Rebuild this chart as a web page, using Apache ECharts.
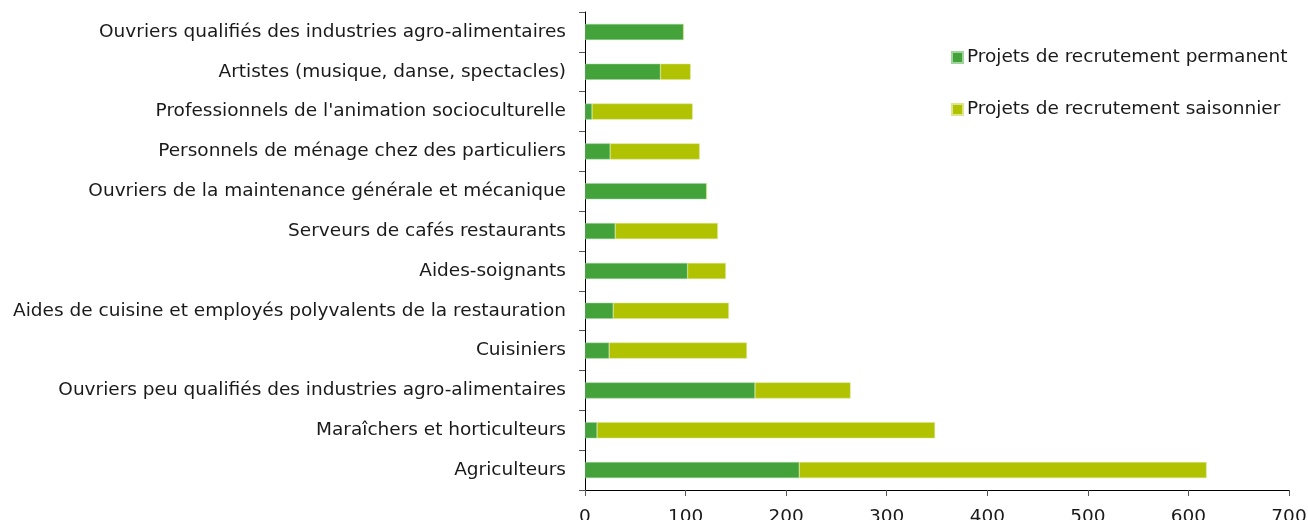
<!DOCTYPE html>
<html>
<head>
<meta charset="utf-8">
<script src="https://cdn.jsdelivr.net/npm/echarts@6/dist/echarts.min.js"></script>
<style>
  html, body { margin: 0; padding: 0; background: #fff; }
  #chart { width: 1308px; height: 520px; }
</style>
</head>
<body>
<div id="chart"></div>
<script>
// categories listed top to bottom
var categories = [
  "Ouvriers qualifiés des industries agro-alimentaires",
  "Artistes (musique, danse, spectacles)",
  "Professionnels de l'animation socioculturelle",
  "Personnels de ménage chez des particuliers",
  "Ouvriers de la maintenance générale et mécanique",
  "Serveurs de cafés restaurants",
  "Aides-soignants",
  "Aides de cuisine et employés polyvalents de la restauration",
  "Cuisiniers",
  "Ouvriers peu qualifiés des industries agro-alimentaires",
  "Maraîchers et horticulteurs",
  "Agriculteurs"
];
var permanent = [98, 75, 7, 25, 121, 30, 102, 28, 24, 169, 12, 213];
var saisonnier = [0, 30, 100, 89, 0, 102, 38, 115, 137, 95, 336, 405];
var xTicks = { min: 0, max: 700, interval: 100 };

var chart = echarts.init(document.getElementById('chart'));
var font = 'DejaVu Sans, Verdana, sans-serif';
var fs = 18.5;

chart.setOption({
  animation: false,
  textStyle: { fontFamily: font },
  grid: { left: 585, right: 19, top: 12, bottom: 30, containLabel: false, outerBoundsMode: 'none' },
  legend: {
    orient: 'vertical',
    left: 946,
    top: 43,
    itemWidth: 11,
    itemHeight: 11,
    itemGap: 33,
    icon: 'rect',
    textStyle: { fontSize: fs, color: '#1a1a1a', fontFamily: font, padding: [0, 0, 0, -1] },
    data: ['Projets de recrutement permanent', 'Projets de recrutement saisonnier']
  },
  xAxis: {
    type: 'value',
    min: xTicks.min,
    max: xTicks.max,
    interval: xTicks.interval,
    splitLine: { show: false },
    axisLine: { show: true, lineStyle: { color: '#000', width: 1 } },
    axisTick: { show: true, length: 6, lineStyle: { color: '#555' } },
    axisLabel: { fontSize: fs, color: '#1a1a1a', margin: 18, fontFamily: font }
  },
  yAxis: {
    type: 'category',
    inverse: true,
    data: categories,
    axisLine: { show: true, lineStyle: { color: '#000', width: 1 } },
    axisTick: { show: true, length: 6, lineStyle: { color: '#555' } },
    axisLabel: { fontSize: fs, color: '#1a1a1a', margin: 19, fontFamily: font }
  },
  series: [
    {
      name: 'Projets de recrutement permanent',
      type: 'bar',
      stack: 'total',
      barWidth: 16,
      data: permanent,
      itemStyle: { color: '#43a33a', borderColor: '#9fd49a', borderWidth: 0.5 }
    },
    {
      name: 'Projets de recrutement saisonnier',
      type: 'bar',
      stack: 'total',
      barWidth: 16,
      data: saisonnier,
      itemStyle: { color: '#b0c200', borderColor: '#dbe58a', borderWidth: 0.5 }
    }
  ]
});
</script>
</body>
</html>
